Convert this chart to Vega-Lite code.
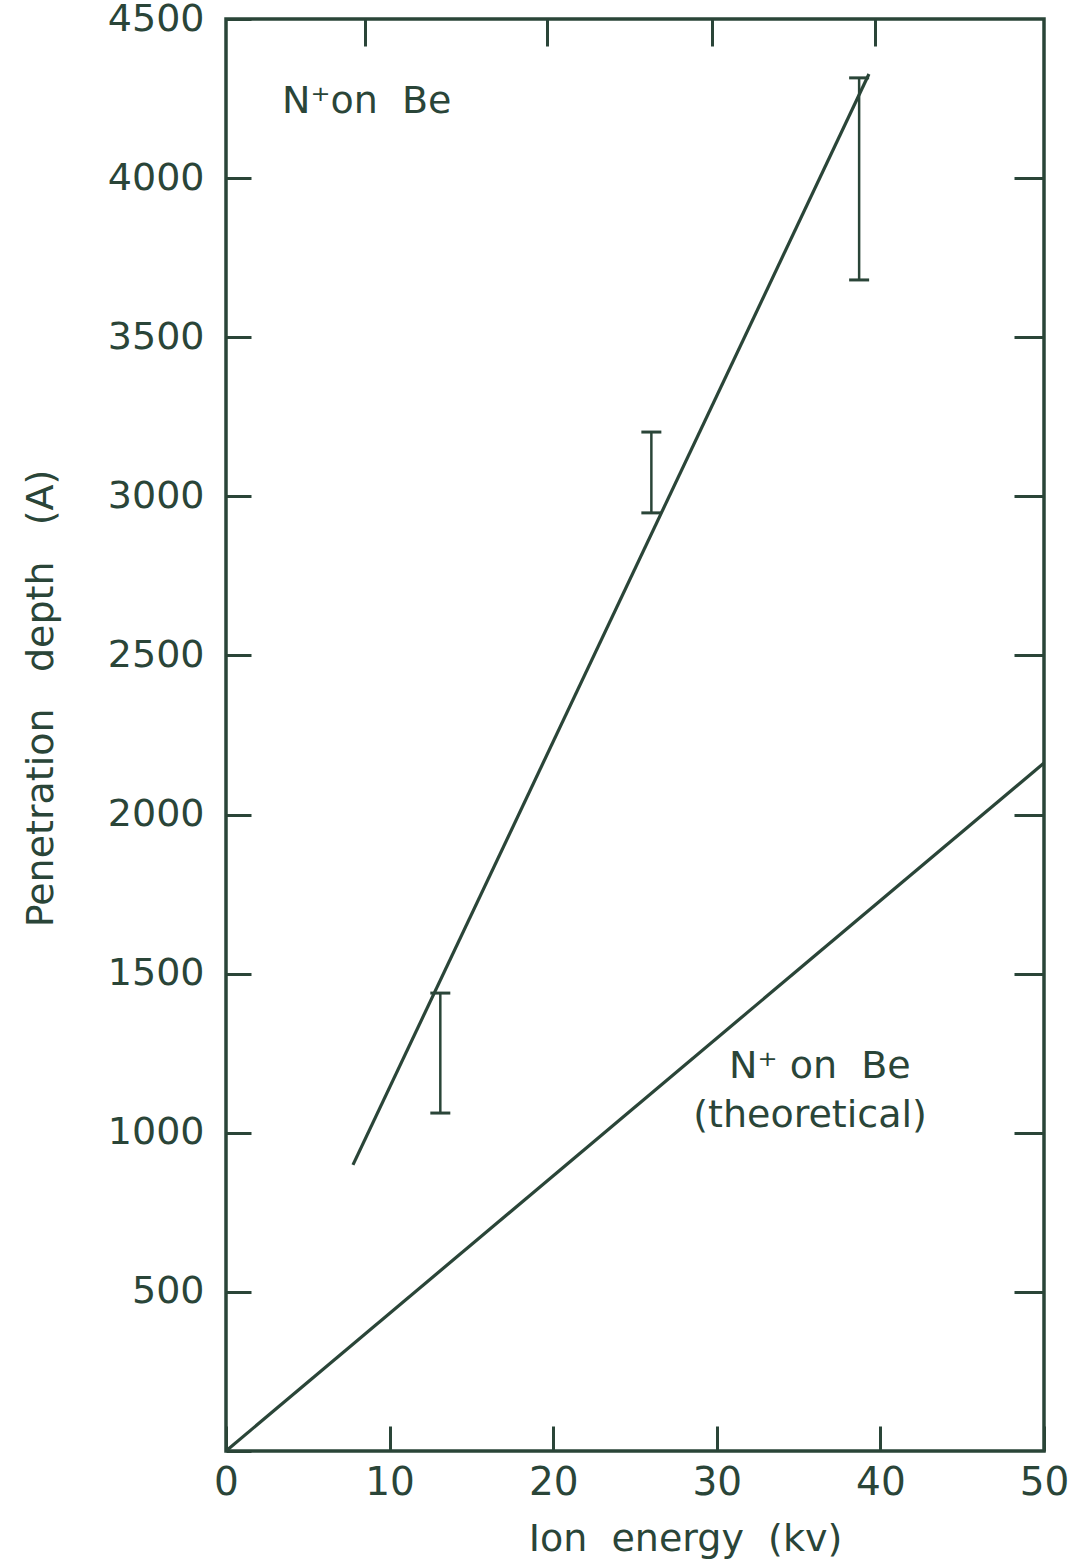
{
  "$schema": "https://vega.github.io/schema/vega-lite/v6.json",
  "width": 818,
  "height": 1432,
  "autosize": "none",
  "padding": {"left": 226, "top": 19, "right": 35, "bottom": 112},
  "background": "white",
  "config": {
    "view": {"stroke": "#2a4538", "strokeWidth": 3.5},
    "font": "DejaVu Sans"
  },
  "datasets": {
    "experimental": [
      {"energy": 7.76, "depth": 899},
      {"energy": 39.3, "depth": 4327}
    ],
    "theoretical": [
      {"energy": 0, "depth": 0},
      {"energy": 50, "depth": 2162}
    ],
    "errors": [
      {"energy": 13.1, "low": 1062, "high": 1439},
      {"energy": 26.0, "low": 2948, "high": 3202},
      {"energy": 38.7, "low": 3680, "high": 4315}
    ],
    "notes": [
      {"energy": 8.6, "depth": 4205, "label": "N⁺on\u00a0\u00a0Be"},
      {"energy": 36.3, "depth": 1172, "label": "N⁺\u00a0on\u00a0\u00a0Be"},
      {"energy": 35.7, "depth": 1018, "label": "(theoretical)"}
    ]
  },
  "layer": [
    {
      "data": {"name": "theoretical"},
      "mark": {"type": "line", "color": "#2a4538", "strokeWidth": 3.2},
      "encoding": {
        "x": {
          "field": "energy", "type": "quantitative",
          "scale": {"domain": [0, 50], "nice": false, "zero": false},
          "axis": {
            "orient": "bottom",
            "values": [0, 10, 20, 30, 40, 50],
            "title": "Ion\u00a0\u00a0energy\u00a0\u00a0(kv)",
            "domain": false, "grid": false,
            "tickSize": -25, "tickWidth": 3, "tickColor": "#2a4538",
            "labelPadding": 37, "labelFont": "DejaVu Sans", "labelFontSize": 39,
            "labelColor": "#2a4538", "labelFlush": false, "labelOverlap": false, "labelBound": false,
            "titleFont": "DejaVu Sans", "titleFontSize": 38, "titleFontWeight": "normal",
            "titleColor": "#2a4538", "titleX": 459, "titleY": 99,
            "titleBaseline": "alphabetic", "titleAlign": "center"
          }
        },
        "y": {
          "field": "depth", "type": "quantitative",
          "scale": {"domain": [0, 4500], "nice": false, "zero": false},
          "axis": {
            "orient": "left",
            "values": [0, 500, 1000, 1500, 2000, 2500, 3000, 3500, 4000, 4500],
            "labelExpr": "datum.value == 0 ? '' : datum.label",
            "format": "d",
            "title": "Penetration\u00a0\u00a0\u00a0depth\u00a0\u00a0\u00a0(A)",
            "domain": false, "grid": false,
            "tickSize": -25, "tickWidth": 3, "tickColor": "#2a4538",
            "labelPadding": 47, "labelFont": "DejaVu Sans", "labelFontSize": 38,
            "labelColor": "#2a4538", "labelFlush": false, "labelOverlap": false, "labelBound": false,
            "titleFont": "DejaVu Sans", "titleFontSize": 38, "titleFontWeight": "normal",
            "titleColor": "#2a4538", "titleX": -174, "titleY": 679, "titleAngle": -90,
            "titleBaseline": "alphabetic", "titleAlign": "center"
          }
        }
      }
    },
    {
      "data": {"name": "experimental"},
      "mark": {"type": "line", "color": "#2a4538", "strokeWidth": 3.2},
      "encoding": {
        "x": {
          "field": "energy", "type": "quantitative",
          "axis": {
            "orient": "top", "values": [8.5, 19.6, 29.7, 39.7],
            "labels": false, "title": null, "domain": false, "grid": false,
            "tickSize": -27, "tickWidth": 3, "tickColor": "#2a4538"
          }
        },
        "y": {
          "field": "depth", "type": "quantitative",
          "axis": {
            "orient": "right",
            "values": [500, 1000, 1500, 2000, 2500, 3000, 3500, 4000],
            "labels": false, "title": null, "domain": false, "grid": false,
            "tickSize": -30, "tickWidth": 3, "tickColor": "#2a4538"
          }
        }
      }
    },
    {
      "data": {"name": "errors"},
      "mark": {"type": "rule", "color": "#2a4538", "strokeWidth": 2.5},
      "encoding": {
        "x": {"field": "energy", "type": "quantitative", "axis": null},
        "y": {"field": "low", "type": "quantitative", "axis": null},
        "y2": {"field": "high"}
      }
    },
    {
      "data": {"name": "errors"},
      "mark": {"type": "tick", "orient": "horizontal", "color": "#2a4538", "size": 20, "thickness": 3, "opacity": 1},
      "encoding": {
        "x": {"field": "energy", "type": "quantitative", "axis": null},
        "y": {"field": "low", "type": "quantitative", "axis": null}
      }
    },
    {
      "data": {"name": "errors"},
      "mark": {"type": "tick", "orient": "horizontal", "color": "#2a4538", "size": 20, "thickness": 3, "opacity": 1},
      "encoding": {
        "x": {"field": "energy", "type": "quantitative", "axis": null},
        "y": {"field": "high", "type": "quantitative", "axis": null}
      }
    },
    {
      "data": {"name": "notes"},
      "mark": {"type": "text", "color": "#2a4538", "font": "DejaVu Sans", "fontSize": 38, "align": "center", "baseline": "alphabetic"},
      "encoding": {
        "x": {"field": "energy", "type": "quantitative", "axis": null},
        "y": {"field": "depth", "type": "quantitative", "axis": null},
        "text": {"field": "label"}
      }
    }
  ],
  "resolve": {"axis": {"x": "independent", "y": "independent"}}
}
